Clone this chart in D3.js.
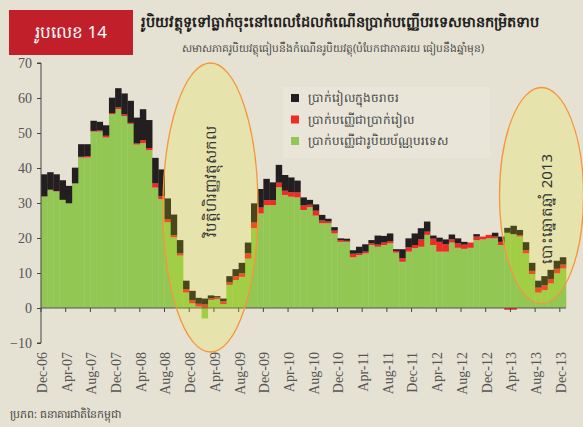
<!DOCTYPE html>
<html>
<head>
<meta charset="utf-8">
<script src="https://cdnjs.cloudflare.com/ajax/libs/d3/7.8.5/d3.min.js"></script>
<style>
  body { margin: 0; background: #e6e2d3; }
  svg { display: block; }
</style>
</head>
<body>
<div id="chart"></div>
<script>
// monthly, Dec-06 .. Dec-13 (% y/y contribution)
var startMonth = new Date(Date.UTC(2006, 11, 1));
var months = d3.utcMonth.range(startMonth, new Date(Date.UTC(2014, 0, 1)));

var foreignDeposits = [31.8,33.7,33.3,30.9,29.9,35.6,43.0,43.0,50.4,50.4,
    48.7,55.4,56.8,54.8,52.6,46.7,47.1,45.1,34.4,31.1,
    24.5,20.2,15.0,4.4,1.3,0.4,-3.0,2.3,2.5,1.1,
    6.6,8.0,8.9,14.1,22.8,27.0,29.4,29.4,34.5,32.3,
    31.8,31.6,28.0,28.8,26.4,24.2,24.2,21.3,18.9,18.9,
    14.5,15.1,15.6,18.0,17.5,18.0,18.5,15.8,13.2,16.1,
    17.1,17.5,20.9,18.0,16.1,16.1,18.7,17.2,16.9,17.2,
    19.4,19.6,19.9,19.9,18.0,21.5,21.1,20.4,15.6,9.7,
    4.4,5.1,7.0,9.9,11.3];
var rielDeposits = [0.1,0.1,0.1,0,0,0,0.2,0.4,0.2,0.3,
    0.5,0.3,0.5,0.5,0.3,0.3,0.9,0.6,1.2,0.8,
    0.9,0.6,0.6,1.0,0.9,0.8,1.0,0.4,0.5,0.8,
    0.7,1.1,1.0,1.5,1.6,1.7,1.4,1.4,1.3,1.2,
    1.3,1.4,1.3,0.7,1.4,0.8,0.5,0.8,0.5,0.3,
    1.0,0.5,0.5,0.5,0.6,0.7,0.6,0.5,1.0,1.2,
    0.9,2.1,0.9,1.8,2.8,2.1,0.9,1.3,1.2,1.5,
    1.0,0.8,1.0,0.5,0.9,-0.5,-0.5,0.4,0.9,0.9,
    1.4,1.4,1.3,1.3,1.1];
var currency = [6.3,5.0,4.8,5.6,5.0,4.5,3.6,3.4,2.9,2.5,
    3.0,4.4,5.5,6.0,6.3,7.4,8.8,8.0,7.3,7.7,
    5.9,5.9,3.8,2.4,2.7,1.7,1.7,0.9,0.4,0.8,
    1.8,2.0,3.0,3.1,5.5,5.3,6.1,5.1,5.1,4.5,
    4.2,3.4,2.3,1.4,1.8,1.6,0.8,1.0,0.5,0.6,
    1.0,1.9,2.1,0.9,2.6,1.9,2.2,0.5,2.6,2.6,
    3.3,3.2,2.9,0.9,1.2,1.4,1.4,1.4,0.8,0,
    0.7,0,0,1.1,1.5,1.4,2.4,1.5,2.3,2.3,
    2.0,2.6,2.6,2.3,2.1];

var seriesKeys = ["foreign", "riel", "currency"];
var seriesColors = ["#92c753", "#ee2b25", "#231f20"];
var legendLabels = ["ប្រាក់រៀលក្នុងចរាចរ", "ប្រាក់បញ្ញើជាប្រាក់រៀល", "ប្រាក់បញ្ញើជារូបិយប័ណ្ណបរទេស"];
var yTicks = [-10, 0, 10, 20, 30, 40, 50, 60, 70];

var W = 583, H = 427;
var margin = { left: 41, right: 566, top: 63, bottom: 343 };
var fmt = d3.utcFormat("%b-%y");

var rows = months.map(function (m, i) {
    return { month: m, foreign: foreignDeposits[i], riel: rielDeposits[i], currency: currency[i] };
});

var svg = d3.select("#chart").append("svg")
    .attr("width", W)
    .attr("height", H);

svg.append("rect").attr("width", W).attr("height", H).attr("fill", "#e6e2d3");

var x = d3.scaleBand()
    .domain(months.map(function (d) { return +d; }))
    .range([margin.left, margin.right])
    .padding(0);

var y = d3.scaleLinear()
    .domain([-10, 70])
    .range([margin.bottom, margin.top]);

// title block
svg.append("rect")
    .attr("x", 9).attr("y", 10)
    .attr("width", 124).attr("height", 45)
    .attr("fill", "#c1202b");
svg.append("text")
    .attr("x", 71).attr("y", 38)
    .attr("text-anchor", "middle")
    .attr("fill", "#fff")
    .attr("font-family", "Noto Sans, DejaVu Sans, sans-serif")
    .attr("font-size", 17)
    .text("រូបលេខ 14");
svg.append("text")
    .attr("x", 141).attr("y", 27)
    .attr("fill", "#231f20")
    .attr("font-weight", "bold")
    .attr("font-family", "Noto Sans, DejaVu Sans, sans-serif")
    .attr("font-size", 14.5)
    .text("រូបិយវត្ថុទូទៅធ្លាក់ចុះនៅពេលដែលកំណើនប្រាក់បញ្ញើបរទេសមានកម្រិតទាប");
svg.append("text")
    .attr("x", 333).attr("y", 52)
    .attr("text-anchor", "middle")
    .attr("fill", "#4a4a4a")
    .attr("font-family", "Noto Sans, DejaVu Sans, sans-serif")
    .attr("font-size", 10.7)
    .text("សមាសភាគរូបិយវត្ថុធៀបនឹងកំណើនរូបិយវត្ថុ(បំបែកជាភាគរយ ធៀបនឹងឆ្នាំមុន)");

// legend
svg.append("rect")
    .attr("x", 283).attr("y", 87)
    .attr("width", 207).attr("height", 71)
    .attr("fill", "#e9e6d9");
var legend = svg.append("g").attr("transform", "translate(291,98)");
[2, 1, 0].forEach(function (k, i) {
    legend.append("rect")
        .attr("x", 0).attr("y", i * 21.5 - 4)
        .attr("width", 8).attr("height", 8)
        .attr("fill", seriesColors[k]);
    legend.append("text")
        .attr("x", 17).attr("y", i * 21.5 + 4)
        .attr("fill", "#444")
        .attr("font-family", "Noto Sans, DejaVu Sans, sans-serif")
        .attr("font-size", 12)
        .text(legendLabels[i]);
});

// stacked bars
var stack = d3.stack()
    .keys(seriesKeys)
    .offset(d3.stackOffsetDiverging);
var layers = stack(rows);

svg.append("g").selectAll("g")
    .data(layers)
    .join("g")
    .attr("fill", function (d, i) { return seriesColors[i]; })
    .selectAll("rect")
    .data(function (d) { return d; })
    .join("rect")
    .attr("x", function (d) { return x(+d.data.month); })
    .attr("width", x.bandwidth() + 0.3)
    .attr("y", function (d) { return y(Math.max(d[0], d[1])); })
    .attr("height", function (d) { return Math.abs(y(d[0]) - y(d[1])); });

// axes
var yAxis = d3.axisLeft(y).tickValues(yTicks).tickSize(4).tickFormat(d3.format("d"));
var gy = svg.append("g")
    .attr("transform", "translate(" + margin.left + ",0)")
    .call(yAxis);
gy.select(".domain").attr("stroke", "#444").attr("d", "M-4," + margin.top + "H0V" + margin.bottom + "H-4");
gy.selectAll(".tick line").attr("stroke", "#444");
gy.selectAll("text")
    .attr("fill", "#555")
    .attr("font-family", "Liberation Serif, serif")
    .attr("font-size", 14)
    .attr("x", -9);

var xTickVals = months.filter(function (d, i) { return i % 4 === 0; });
var gx = svg.append("g")
    .attr("transform", "translate(0," + y(0) + ")")
    .call(d3.axisBottom(x).tickValues(xTickVals.map(function (d) { return +d; })).tickSize(4).tickFormat(""));
gx.select(".domain").attr("stroke", "#555").attr("d", "M" + margin.left + ",0H" + margin.right);
gx.selectAll(".tick").attr("transform", function (d) { return "translate(" + x(d) + ",0)"; });
gx.selectAll(".tick line").attr("stroke", "#444");

svg.append("g").selectAll("text")
    .data(xTickVals)
    .join("text")
    .attr("transform", function (d) { return "translate(" + (x(+d) + 1) + ",352) rotate(-90)"; })
    .attr("text-anchor", "end")
    .attr("dy", "0.35em")
    .attr("fill", "#555")
    .attr("font-family", "Liberation Serif, serif")
    .attr("font-size", 14)
    .text(function (d) { return fmt(d); });

// highlight ellipses
var notes = [
    { cx: 210.5, cy: 207.5, rx: 47.5, ry: 144.5, tx: 211, ty: 181, text: "វិបត្តិហិរញ្ញវត្ថុសកល" },
    { cx: 541.5, cy: 195.5, rx: 42, ry: 108, tx: 547, ty: 209, text: "បោះឆ្នោតឆ្នាំ 2013" }
];
var ng = svg.append("g");
ng.selectAll("ellipse")
    .data(notes)
    .join("ellipse")
    .attr("cx", function (d) { return d.cx; })
    .attr("cy", function (d) { return d.cy; })
    .attr("rx", function (d) { return d.rx; })
    .attr("ry", function (d) { return d.ry; })
    .attr("fill", "#e5ed15")
    .attr("fill-opacity", 0.2)
    .attr("stroke", "#f7953e")
    .attr("stroke-width", 1.3);
ng.selectAll("text")
    .data(notes)
    .join("text")
    .attr("transform", function (d) { return "translate(" + d.tx + "," + d.ty + ") rotate(-90)"; })
    .attr("text-anchor", "middle")
    .attr("dy", "0.35em")
    .attr("fill", "#333")
    .attr("font-family", "Noto Sans, DejaVu Sans, sans-serif")
    .attr("font-size", 15)
    .text(function (d) { return d.text; });

// source
svg.append("text")
    .attr("x", 10).attr("y", 418)
    .attr("fill", "#444")
    .attr("font-family", "Noto Sans, DejaVu Sans, sans-serif")
    .attr("font-size", 11)
    .text("ប្រភព: ធនាគារជាតិនៃកម្ពុជា");
</script>
</body>
</html>
